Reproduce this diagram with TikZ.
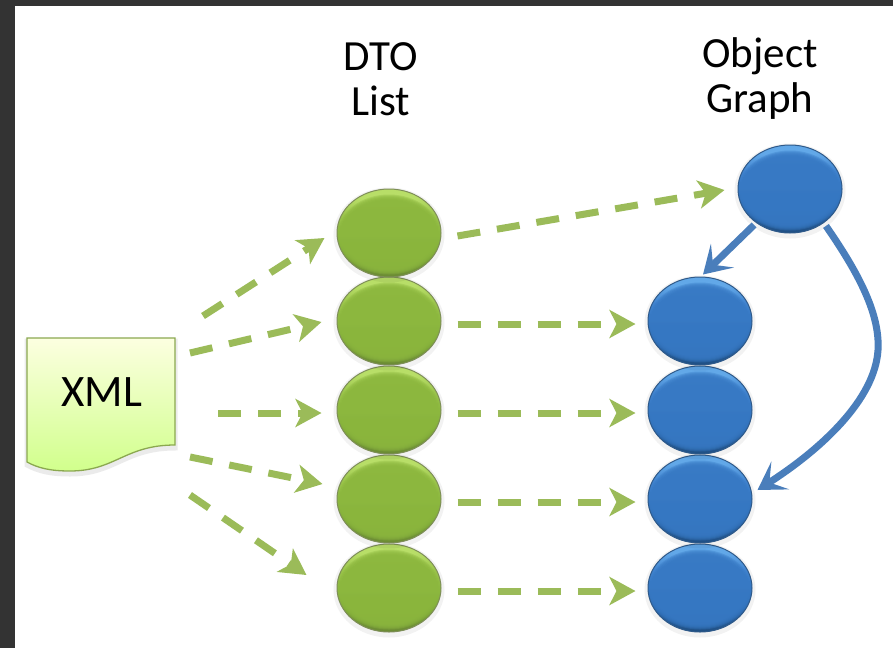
\documentclass[tikz,border=0pt]{standalone}
\usepackage{fontspec}
\setmainfont{Carlito}
\usetikzlibrary{arrows.meta,shapes.geometric}
\definecolor{pgreen}{HTML}{9BBB59}
\definecolor{pblue}{HTML}{4A7EBB}
\definecolor{gd}{HTML}{6A8A34}\definecolor{gtop}{HTML}{9AC44A}\definecolor{gbot}{HTML}{82AE38}\definecolor{gl}{HTML}{B8DE68}\definecolor{ge}{HTML}{7E8E58}\definecolor{gbod}{HTML}{8CB73E}
\definecolor{bd}{HTML}{1F4E82}\definecolor{btop}{HTML}{3F82CE}\definecolor{bbot}{HTML}{2F6FB8}\definecolor{bl}{HTML}{62A8E8}\definecolor{be}{HTML}{2F5A8A}\definecolor{bbod}{HTML}{3779C4}
\pgfdeclareverticalshading{greenbev}{100bp}{color(0bp)=(gd);color(25bp)=(gd);color(40bp)=(gbot);color(60bp)=(gtop);color(70bp)=(gl);color(75bp)=(gl);color(100bp)=(gl)}
\pgfdeclareverticalshading{bluebev}{100bp}{color(0bp)=(bd);color(25bp)=(bd);color(40bp)=(bbot);color(60bp)=(btop);color(70bp)=(bl);color(75bp)=(bl);color(100bp)=(bl)}
\tikzset{
  x=1pt,y=-1pt,
  ball/.style={ellipse,minimum width=104pt,minimum height=88pt,inner sep=0pt,line width=1pt,
    preaction={draw=black,opacity=.05,line width=7pt,transform canvas={yshift=-2pt}},
    path picture={\foreach \k in {0,1,...,5}{
      \fill[fill=#1bod,opacity=.35]
        ([yshift=-1.5pt]path picture bounding box.center) ellipse [x radius=51pt-\k pt,y radius=40pt-\k pt];}}},
  gball/.style={ball=g,draw=ge,shading=greenbev},
  bball/.style={ball=b,draw=be,shading=bluebev},
  dasharrow/.style={draw=pgreen,line width=7pt,dash pattern=on 23pt off 17pt,
     -{Stealth[length=26pt,width=28pt,inset=7pt,fill=pgreen]}},
  linkarrow/.style={draw=pblue,line width=7pt,
     -{Stealth[length=27pt,width=33pt,inset=13pt,fill=pblue]}},
  headtext/.style={font=\fontsize{43}{45}\selectfont,align=center,text=black},
  doc/.style={draw=pgreen!90!black,line width=1.3pt,top color=green!10!yellow!12!white,bottom color=green!40!yellow!45!white,preaction={draw=black,opacity=.08,line width=5pt,transform canvas={yshift=-3pt}}},
}
\begin{document}
\begin{tikzpicture}
\useasboundingbox (0,0) rectangle (893,648);
\fill[black!80] (0,0) rectangle (893,648);
\fill[white] (15,6) rectangle (893,648);
% XML document
\path[doc] (27,338) -- (175,338) -- (175,445) .. controls (125,445) and (115,471) .. (70,471) .. controls (50,471) and (38,468) .. (27,462) -- cycle;
\node[font=\fontsize{45}{48}\selectfont,text=black,inner sep=0pt] (xml) at (102,392) {XML};
% headings
\node[headtext] (dto) at (381,79) {DTO\\List};
\node[headtext] (obj) at (760,79) {Object\\Graph};
% balls, drawn bottom to top
\node[gball] (g5) at (389,588) {};
\node[gball] (g4) at (389,499) {};
\node[gball] (g3) at (389,410) {};
\node[gball] (g2) at (389,321) {};
\node[gball] (g1) at (389,233) {};
\node[bball] (b5) at (700,588) {};
\node[bball] (b4) at (700,499) {};
\node[bball] (b3) at (700,410) {};
\node[bball] (b2) at (700,321) {};
\node[bball] (b1) at (790,189) {};
% free ends by the document
\coordinate (s1) at (203,316);
\coordinate (s2) at (190,353);
\coordinate (s3) at (218,413);
\coordinate (s4) at (190,457);
\coordinate (s5) at (190,495);
\draw[dasharrow] (s1) -- ([xshift=-12pt,yshift=-5pt]g1.west);
\draw[dasharrow] (s2) -- ([xshift=-15pt,yshift=-1pt]g2.west);
\draw[dasharrow] (s3) -- ([xshift=-15pt,yshift=-3pt]g3.west);
\draw[dasharrow] (s4) -- ([xshift=-14pt,yshift=15pt]g4.west);
\draw[dasharrow] (s5) -- ([xshift=-30pt,yshift=13pt]g5.west);
\draw[dasharrow] ([xshift=16pt,yshift=-3pt]g1.east) -- ([xshift=-13pt,yshift=-1pt]b1.west);
\draw[dasharrow] ([xshift=16pt,yshift=-3pt]g2.east) -- ([xshift=-12pt,yshift=-3pt]b2.west);
\draw[dasharrow] ([xshift=16pt,yshift=-3pt]g3.east) -- ([xshift=-12pt,yshift=-3pt]b3.west);
\draw[dasharrow] ([xshift=16pt,yshift=-3pt]g4.east) -- ([xshift=-12pt,yshift=-3pt]b4.west);
\draw[dasharrow] ([xshift=16pt,yshift=-3pt]g5.east) -- ([xshift=-12pt,yshift=-3pt]b5.west);
\draw[linkarrow] ([xshift=-2pt,yshift=-2pt]b1.225) -- ([xshift=3pt,yshift=2pt]b2.north);
\draw[linkarrow] ([xshift=2pt,yshift=-3pt]b1.-45) .. controls (860,275) and (880,315) .. (878,350) .. controls (875,400) and (820,450) .. ([xshift=5pt,yshift=9pt]b4.east);
\end{tikzpicture}
\end{document}
